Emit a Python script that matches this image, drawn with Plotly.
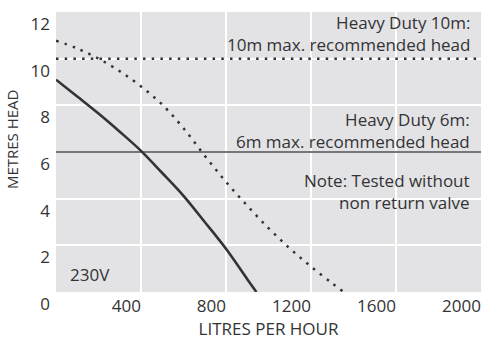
import plotly.graph_objects as go

# Data
flow_6m = [0, 100, 200, 300, 400, 500, 600, 700, 800, 900, 943]
head_6m = [9.1, 8.38, 7.65, 6.87, 6.05, 5.1, 4.12, 3.0, 1.85, 0.55, 0.0]

flow_10m = [0, 100, 200, 300, 400, 500, 600, 700, 800, 900, 1000, 1100, 1200, 1300, 1355]
head_10m = [10.77, 10.44, 10.0, 9.46, 8.81, 8.03, 7.02, 5.84, 4.72, 3.70, 2.74, 1.87, 1.09, 0.37, 0.0]

max_head_10m = 10
max_head_6m = 6
x_range = [0, 2000]
y_range = [0, 12]
x_ticks = [400, 800, 1200, 1600, 2000]
y_ticks = [0, 2, 4, 6, 8, 10, 12]

TEXT = "#333335"
FONT = "Open Sans"

fig = go.Figure()
# reference lines
fig.add_trace(go.Scatter(x=x_range, y=[max_head_10m] * 2, mode="lines",
                         line=dict(color="#333335", width=2.5, dash="2.5px,6.2px"),
                         hoverinfo="skip", showlegend=False))
fig.add_trace(go.Scatter(x=x_range, y=[max_head_6m] * 2, mode="lines",
                         line=dict(color="#4a4a4c", width=1.6),
                         hoverinfo="skip", showlegend=False))
# pump curves
fig.add_trace(go.Scatter(x=flow_10m, y=head_10m, mode="lines", line_shape="spline",
                         line=dict(color="#333335", width=2.5, dash="2.5px,6.2px"),
                         name="Heavy Duty 10m", showlegend=False))
fig.add_trace(go.Scatter(x=flow_6m, y=head_6m, mode="lines", line_shape="spline",
                         line=dict(color="#333335", width=2.6),
                         name="Heavy Duty 6m", showlegend=False))

def ann(text, x, y, xanchor="right", align="right"):
    fig.add_annotation(text=text, x=x, y=y, xref="paper", yref="paper",
                       xanchor=xanchor, yanchor="middle", align=align, showarrow=False,
                       font=dict(family=FONT, size=17, color=TEXT))

rx = (472 - 56) / 425
ann("Heavy Duty 10m:<br>10m max. recommended head", rx, (294 - 34) / 282)
ann("Heavy Duty 6m:<br>6m max. recommended head", rx, (294 - 131.5) / 282)
ann("Note: Tested without<br>non return valve", rx, (294 - 193) / 282)
ann("230V", (68 - 56) / 425, (294 - 276) / 282, xanchor="left", align="left")

fig.add_annotation(text="METRES HEAD", x=(12 - 56) / 425, y=(294 - 140) / 282,
                   xref="paper", yref="paper", xanchor="center", yanchor="middle",
                   textangle=-90, showarrow=False,
                   font=dict(family=FONT, size=15, color=TEXT))

fig.update_layout(
    width=491, height=344,
    margin=dict(l=56, r=10, t=12, b=50),
    paper_bgcolor="white", plot_bgcolor="#e3e3e5",
    font=dict(family=FONT, size=17, color=TEXT),
    xaxis=dict(range=x_range, tickvals=x_ticks, showgrid=True, gridcolor="white",
               gridwidth=1.5, zeroline=False, showline=False, ticks="",
               ticklabelposition="outside left", ticklabelstandoff=2,
               title=dict(text="LITRES PER HOUR", font=dict(size=17, family=FONT, color=TEXT),
                          standoff=5),
               tickfont=dict(size=17)),
    yaxis=dict(range=y_range, tickvals=y_ticks, showgrid=True, gridcolor="white",
               gridwidth=1.5, zeroline=False, showline=False, ticks="",
               ticklabelposition="outside bottom", ticklabelstandoff=5,
               ticksuffix=" ",
               tickfont=dict(size=17)),
)

fig.write_html("out.html")
